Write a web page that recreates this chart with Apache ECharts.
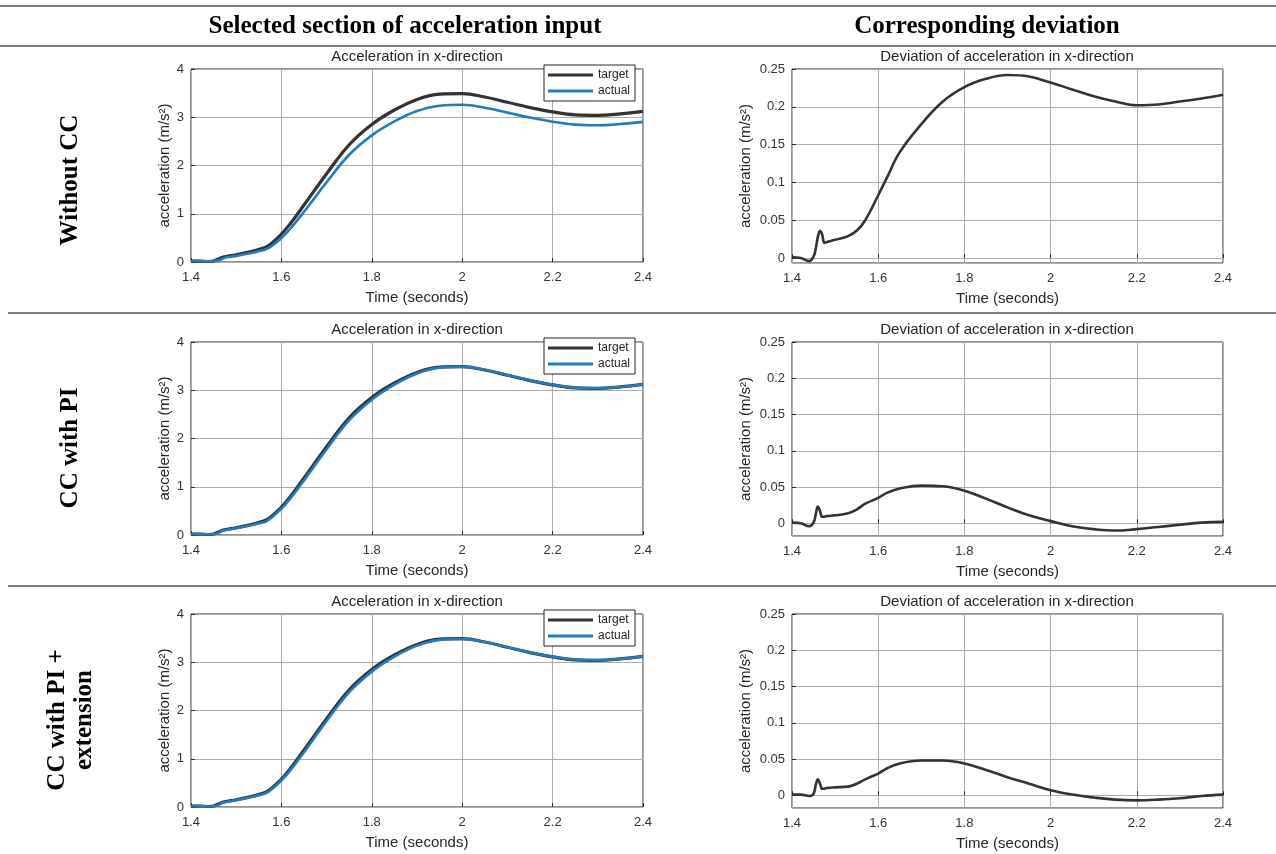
<!DOCTYPE html>
<html>
<head>
<meta charset="utf-8">
<title>Acceleration comparison</title>
<script src="https://cdn.jsdelivr.net/npm/echarts@6/dist/echarts.min.js"></script>
<style>
  html, body { margin: 0; padding: 0; background: #fff; }
  #chart { width: 1276px; height: 854px; }
</style>
</head>
<body>
<div id="chart"></div>
<script>
// time samples (seconds), denser around the small spike at ~1.46 s
const time = [1.40, 1.42, 1.44, 1.45, 1.455, 1.46, 1.465, 1.47, 1.475, 1.48, 1.50, 1.53, 1.55, 1.57,
  1.60, 1.62, 1.65, 1.70, 1.75, 1.80, 1.85, 1.90, 1.95, 2.00, 2.05, 2.10, 2.15, 2.20, 2.25, 2.30, 2.35, 2.40];

// target acceleration (same input for all three rows)
const targetAccel = [0.02, 0.02, 0.01, 0.02, 0.04, 0.06, 0.08, 0.10, 0.11, 0.12, 0.15, 0.21, 0.26, 0.33,
  0.58, 0.80, 1.18, 1.83, 2.43, 2.85, 3.15, 3.37, 3.48, 3.49, 3.42, 3.31, 3.20, 3.11, 3.05, 3.04, 3.07, 3.12];

// actual acceleration per row
const actualNoCC = [0.02, 0.02, 0.014, 0.018, 0.028, 0.032, 0.044, 0.069, 0.09, 0.099, 0.126, 0.181, 0.224, 0.28,
  0.497, 0.694, 1.04, 1.653, 2.223, 2.624, 2.913, 3.128, 3.24, 3.258, 3.197, 3.096, 2.993, 2.908, 2.847, 2.833, 2.859, 2.904];
const actualPI = [0.019, 0.02, 0.014, 0.019, 0.028, 0.037, 0.063, 0.091, 0.101, 0.11, 0.139, 0.196, 0.241, 0.303,
  0.545, 0.758, 1.132, 1.778, 2.379, 2.805, 3.116, 3.348, 3.469, 3.487, 3.424, 3.318, 3.21, 3.118, 3.055, 3.042, 3.069, 3.118];
const actualPIExt = [0.019, 0.019, 0.011, 0.018, 0.026, 0.038, 0.064, 0.091, 0.101, 0.11, 0.139, 0.198, 0.244, 0.308,
  0.55, 0.763, 1.136, 1.782, 2.382, 2.806, 3.115, 3.345, 3.464, 3.483, 3.419, 3.313, 3.206, 3.117, 3.056, 3.044, 3.071, 3.119];

// deviation per row
const devNoCC = [0.001, 0.0, -0.004, 0.002, 0.012, 0.028, 0.036, 0.031, 0.02, 0.021, 0.024, 0.029, 0.036, 0.05,
  0.083, 0.106, 0.14, 0.177, 0.207, 0.226, 0.237, 0.242, 0.24, 0.232, 0.223, 0.214, 0.207, 0.202, 0.203, 0.207, 0.211, 0.216];
const devPI = [0.001, 0.0, -0.004, 0.001, 0.012, 0.023, 0.017, 0.009, 0.009, 0.01, 0.011, 0.014, 0.019, 0.027,
  0.035, 0.042, 0.048, 0.052, 0.051, 0.045, 0.034, 0.022, 0.011, 0.003, -0.004, -0.008, -0.01, -0.008, -0.005, -0.002, 0.001, 0.002];
const devPIExt = [0.001, 0.001, -0.001, 0.002, 0.014, 0.022, 0.016, 0.009, 0.009, 0.01, 0.011, 0.012, 0.016, 0.022,
  0.03, 0.037, 0.044, 0.048, 0.048, 0.044, 0.035, 0.025, 0.016, 0.007, 0.001, -0.003, -0.006, -0.007, -0.006, -0.004, -0.001, 0.001];

// axis extents
const timeRange = [1.4, 2.4];
const accelRange = [0, 4];
const devMins = [-0.0066, -0.0175, -0.0175];
const devMax = 0.25;

// texts
const headers = ['Selected section of acceleration input', 'Corresponding deviation'];
const rowLabels = ['Without CC', 'CC with PI', 'CC with PI +\nextension'];
const leftTitle = 'Acceleration in x-direction';
const rightTitle = 'Deviation of acceleration in x-direction';
const seriesNames = ['target', 'actual'];

const actuals = [actualNoCC, actualPI, actualPIExt];
const devs = [devNoCC, devPI, devPIExt];

const chart = echarts.init(document.getElementById('chart'));

const FONT = 'Liberation Sans, Arial, sans-serif';
const SERIF = '"Liberation Serif", "Times New Roman", serif';
const rowTops = [69, 342, 614];
const rowLabelY = [180, 448, 720];
const pair = arr => time.map((t, i) => [t, arr[i]]);

const grids = [], xAxes = [], yAxes = [], series = [], legends = [], graphics = [];

function xAxisFor(idx) {
  return {
    gridIndex: idx, type: 'value', min: timeRange[0], max: timeRange[1], interval: 0.2,
    axisLine: { show: false },
    axisTick: { inside: true, length: 4, lineStyle: { color: '#262626' } },
    axisLabel: { fontSize: 13, color: '#333', margin: 9, fontFamily: FONT },
    splitLine: { show: true, lineStyle: { color: '#adadad', width: 1 } },
    name: 'Time (seconds)', nameLocation: 'middle', nameGap: 28,
    nameTextStyle: { fontSize: 15, color: '#262626', fontFamily: FONT }
  };
}

for (let r = 0; r < 3; r++) {
  const li = 2 * r, ri = 2 * r + 1;
  grids.push({ left: 191, top: rowTops[r], width: 452, height: 193, show: true,
    borderColor: '#262626', borderWidth: 1, backgroundColor: '#fff' });
  grids.push({ left: 792, top: rowTops[r], width: 431, height: 194, show: true,
    borderColor: '#262626', borderWidth: 1, backgroundColor: '#fff' });

  xAxes.push(xAxisFor(li), xAxisFor(ri));

  yAxes.push({
    gridIndex: li, type: 'value', min: accelRange[0], max: accelRange[1], interval: 1,
    axisLine: { show: false },
    axisTick: { show: true, inside: true, length: 4, lineStyle: { color: '#262626' } },
    axisLabel: { fontSize: 13, color: '#333', margin: 7, fontFamily: FONT },
    splitLine: { show: true, lineStyle: { color: '#adadad', width: 1 } },
    name: 'acceleration (m/s²)', nameLocation: 'middle', nameGap: 19,
    nameTextStyle: { fontSize: 15, color: '#262626', fontFamily: FONT }
  });
  yAxes.push({
    gridIndex: ri, type: 'value', min: devMins[r], max: devMax, splitNumber: 5,
    axisLine: { show: false },
    axisTick: { show: true, inside: true, length: 4, lineStyle: { color: '#262626' } },
    axisLabel: { fontSize: 13, color: '#333', margin: 7, fontFamily: FONT, showMinLabel: false },
    splitLine: { show: true, lineStyle: { color: '#adadad', width: 1 } },
    name: 'acceleration (m/s²)', nameLocation: 'middle', nameGap: 39,
    nameTextStyle: { fontSize: 15, color: '#262626', fontFamily: FONT }
  });

  series.push({
    name: seriesNames[0], type: 'line', xAxisIndex: li, yAxisIndex: li, data: pair(targetAccel),
    symbol: 'none', smooth: 0.4,
    lineStyle: { color: '#333333', width: 3.2 }, itemStyle: { color: '#333333' }
  });
  series.push({
    name: seriesNames[1], type: 'line', xAxisIndex: li, yAxisIndex: li, data: pair(actuals[r]),
    symbol: 'none', smooth: 0.4,
    lineStyle: { color: '#1f7cc2', width: 2.6 }, itemStyle: { color: '#1f7cc2' }
  });
  series.push({
    name: 'deviation', type: 'line', xAxisIndex: ri, yAxisIndex: ri, data: pair(devs[r]),
    symbol: 'none', smooth: 0.4,
    lineStyle: { color: '#333333', width: 2.6 }, itemStyle: { color: '#333333' }
  });

  legends.push({
    data: seriesNames, orient: 'vertical', left: 544, top: rowTops[r] - 4,
    icon: 'rect', itemWidth: 45, itemHeight: 3, itemGap: 2,
    padding: [3, 5, 3, 4], borderColor: '#262626', borderWidth: 1, backgroundColor: '#fff',
    selectedMode: false,
    textStyle: { fontSize: 12, color: '#262626', fontFamily: FONT, lineHeight: 14 }
  });

  graphics.push({ type: 'text', x: 417, y: rowTops[r] - 12,
    style: { text: leftTitle, font: '15px ' + FONT, fill: '#262626', align: 'center', verticalAlign: 'middle' } });
  graphics.push({ type: 'text', x: 1007, y: rowTops[r] - 12,
    style: { text: rightTitle, font: '15px ' + FONT, fill: '#262626', align: 'center', verticalAlign: 'middle' } });

  graphics.push({ type: 'text', x: 71, y: rowLabelY[r], rotation: Math.PI / 2,
    style: { text: rowLabels[r], font: 'bold 25px ' + SERIF, fill: '#000', align: 'center',
      verticalAlign: 'middle', lineHeight: 27 } });
}

// table rules
[[0, 6], [0, 46], [8, 313], [8, 586]].forEach(([x0, y]) => {
  graphics.push({ type: 'line', shape: { x1: x0, y1: y, x2: 1276, y2: y },
    style: { stroke: '#7f7f7f', lineWidth: 2 } });
});
graphics.push({ type: 'text', x: 405, y: 27,
  style: { text: headers[0], font: 'bold 25px ' + SERIF, fill: '#000', align: 'center', verticalAlign: 'middle' } });
graphics.push({ type: 'text', x: 987, y: 27,
  style: { text: headers[1], font: 'bold 25px ' + SERIF, fill: '#000', align: 'center', verticalAlign: 'middle' } });

chart.setOption({
  backgroundColor: '#fff',
  animation: false,
  grid: grids,
  xAxis: xAxes,
  yAxis: yAxes,
  legend: legends,
  series: series,
  graphic: graphics
});
</script>
</body>
</html>
